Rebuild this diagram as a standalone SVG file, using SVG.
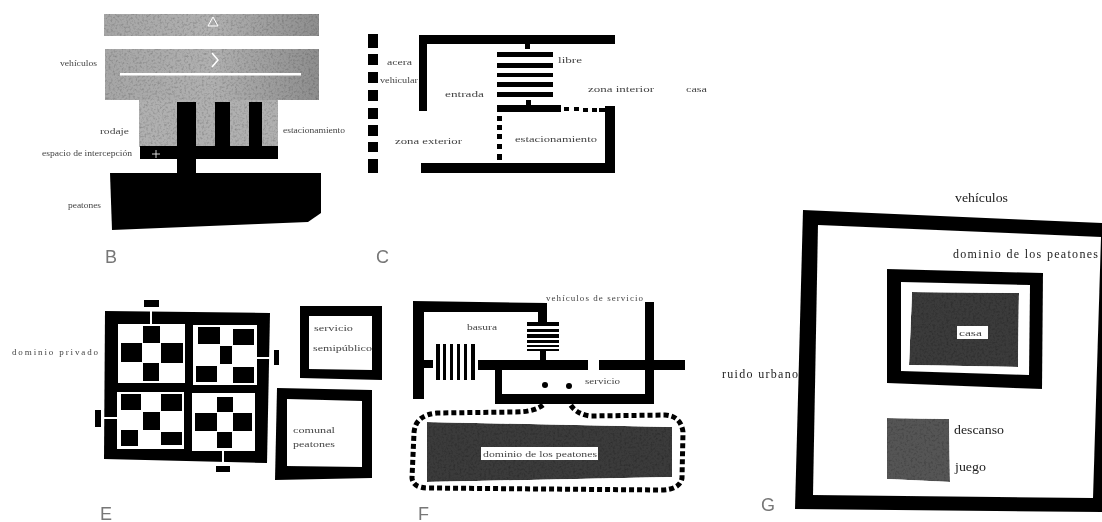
<svg xmlns="http://www.w3.org/2000/svg" width="1102" height="522" viewBox="0 0 1102 522">
<defs>
<style>
.k{fill:#060606}
.w{fill:#fff}
.g1{fill:url(#band)}
.g2{fill:#b0b0b0}
.d{fill:#3a3a3a}
.dm{fill:#555}
.wl{stroke:#fff;fill:none}
.sm{font-family:"Liberation Serif",serif;font-size:9px;fill:#444}
.lg{font-family:"Liberation Serif",serif;font-size:12px;fill:#222}
.let{font-family:"Liberation Sans",sans-serif;font-size:18px;fill:#777}
.dash{fill:none;stroke:#060606;stroke-width:5;stroke-dasharray:5 3}
</style>
<linearGradient id="band" x1="0" x2="1" y1="0" y2="0">
<stop offset="0" stop-color="#a6a6a6"/><stop offset="0.5" stop-color="#b0b0b0"/><stop offset="1" stop-color="#8e8e8e"/>
</linearGradient>
<filter id="soft" filterUnits="userSpaceOnUse" x="0" y="0" width="1102" height="522"><feGaussianBlur stdDeviation="0.6"/></filter>
<filter id="grain" filterUnits="objectBoundingBox" x="0" y="0" width="1" height="1">
<feTurbulence type="fractalNoise" baseFrequency="0.45" numOctaves="2" seed="4" result="n"/>
<feColorMatrix in="n" type="matrix" values="0.9 0 0 0 0.5  0.9 0 0 0 0.5  0.9 0 0 0 0.5  0 0 0 0 1" result="g"/>
<feBlend in="SourceGraphic" in2="g" mode="multiply" result="b"/>
<feComposite in="b" in2="SourceAlpha" operator="in"/>
</filter>
</defs>
<rect width="1102" height="522" fill="#fff"/>

<g filter="url(#soft)">
<g id="panel-b">
<rect class="g1" x="104" y="14" width="215" height="22" filter="url(#grain)"/>
<path class="wl" stroke-width="1" d="M208,26 L213,17 L218,26 Z"/>
<rect class="g1" x="105" y="49" width="214" height="51" filter="url(#grain)"/>
<path class="wl" stroke-width="1.5" d="M212,53 L218,60 L212,67"/>
<rect class="w" x="120" y="73" width="181" height="2.5"/>
<rect class="g2" x="139" y="100" width="139" height="47" filter="url(#grain)"/>
<rect class="k" x="177" y="102" width="19" height="72"/>
<rect class="k" x="215" y="102" width="15" height="46"/>
<rect class="k" x="249" y="102" width="13" height="46"/>
<rect class="k" x="140" y="146" width="138" height="13"/>
<path class="wl" stroke-width="0.8" d="M152,154 h8 M156,150 v8"/>
<polygon class="k" points="110,173 321,173 321,213 308,222 112,230"/>
<text class="sm" x="60" y="66" textLength="37" lengthAdjust="spacingAndGlyphs">vehículos</text>
<text class="sm" x="100" y="134" textLength="29" lengthAdjust="spacingAndGlyphs">rodaje</text>
<text class="sm" x="283" y="133" textLength="62" lengthAdjust="spacingAndGlyphs">estacionamiento</text>
<text class="sm" x="42" y="156" textLength="90" lengthAdjust="spacingAndGlyphs">espacio de intercepción</text>
<text class="sm" x="68" y="208" textLength="33" lengthAdjust="spacingAndGlyphs">peatones</text>
<text class="let" x="105" y="263">B</text>
</g>

<g id="panel-c">
<g class="k">
<rect x="368" y="34" width="10" height="14"/><rect x="368" y="54" width="10" height="11"/>
<rect x="368" y="72" width="10" height="11"/><rect x="368" y="90" width="10" height="11"/>
<rect x="368" y="108" width="10" height="11"/><rect x="368" y="125" width="10" height="11"/>
<rect x="368" y="142" width="10" height="10"/><rect x="368" y="159" width="10" height="14"/>
<rect x="419" y="35" width="196" height="9"/>
<rect x="419" y="35" width="8" height="76"/>
<rect x="421" y="163" width="194" height="10"/>
<rect x="605" y="106" width="10" height="67"/>
<rect x="497" y="105" width="64" height="7"/>
<rect x="525" y="44" width="5" height="5"/>
<rect x="526" y="100" width="5" height="6"/>
<rect x="497" y="52" width="56" height="5"/><rect x="497" y="63" width="56" height="5"/>
<rect x="497" y="73" width="56" height="4"/><rect x="497" y="82" width="56" height="5"/>
<rect x="497" y="92" width="56" height="5"/>
<rect x="564" y="107" width="5" height="4"/><rect x="574" y="107" width="5" height="4"/>
<rect x="583" y="108" width="5" height="4"/><rect x="592" y="108" width="5" height="4"/><rect x="599" y="108" width="6" height="4"/>
<rect x="497" y="116" width="5" height="5"/><rect x="497" y="125" width="5" height="5"/>
<rect x="497" y="134" width="5" height="5"/><rect x="497" y="144" width="5" height="5"/>
<rect x="497" y="154" width="5" height="6"/>
</g>
<text class="sm" x="387" y="65" textLength="25" lengthAdjust="spacingAndGlyphs">acera</text>
<text class="sm" x="380" y="83" textLength="38" lengthAdjust="spacingAndGlyphs">vehicular</text>
<text class="sm" x="445" y="97" textLength="39" lengthAdjust="spacingAndGlyphs">entrada</text>
<text class="sm" x="558" y="63" textLength="24" lengthAdjust="spacingAndGlyphs">libre</text>
<text class="sm" x="588" y="92" textLength="66" lengthAdjust="spacingAndGlyphs">zona interior</text>
<text class="sm" x="686" y="92" textLength="21" lengthAdjust="spacingAndGlyphs">casa</text>
<text class="sm" x="395" y="144" textLength="67" lengthAdjust="spacingAndGlyphs">zona exterior</text>
<text class="sm" x="515" y="142" textLength="82" lengthAdjust="spacingAndGlyphs">estacionamiento</text>
<text class="let" x="376" y="263">C</text>
</g>

<g id="panel-e">
<polygon class="k" points="105,311 270,313 267,463 104,459"/>
<g class="w">
<rect x="118" y="324" width="67" height="59"/>
<rect x="193" y="325" width="64" height="60"/>
<rect x="117" y="392" width="67" height="57"/>
<rect x="192" y="393" width="63" height="58"/>
</g>
<g class="k">
<rect x="143" y="326" width="17" height="17"/><rect x="121" y="343" width="21" height="19"/>
<rect x="161" y="343" width="22" height="20"/><rect x="143" y="363" width="16" height="18"/>
<rect x="198" y="327" width="22" height="17"/><rect x="233" y="329" width="21" height="16"/>
<rect x="220" y="346" width="12" height="18"/><rect x="196" y="366" width="21" height="16"/>
<rect x="233" y="367" width="21" height="16"/>
<rect x="121" y="394" width="20" height="16"/><rect x="161" y="394" width="21" height="17"/>
<rect x="143" y="412" width="17" height="18"/><rect x="121" y="430" width="17" height="16"/>
<rect x="161" y="432" width="21" height="13"/>
<rect x="217" y="397" width="16" height="15"/><rect x="195" y="413" width="22" height="18"/>
<rect x="233" y="413" width="19" height="18"/><rect x="217" y="432" width="15" height="16"/>
<rect x="144" y="300" width="15" height="7"/><rect x="274" y="350" width="5" height="15"/>
<rect x="95" y="410" width="6" height="17"/><rect x="216" y="466" width="14" height="6"/>
</g>
<path class="wl" stroke-width="2" d="M151,311 V324 M257,358 H274 M104,418 H117 M223,451 V466"/>
<polygon class="k" points="300,306 382,306 382,380 300,378"/>
<polygon class="w" points="309,316 372,316 372,370 309,369"/>
<polygon class="k" points="277,388 372,390 372,478 275,480"/>
<polygon class="w" points="287,399 362,401 362,467 287,466"/>
<text class="sm" x="12" y="355" textLength="86" lengthAdjust="spacing">dominio privado</text>
<text class="sm" x="314" y="331" textLength="39" lengthAdjust="spacingAndGlyphs">servicio</text>
<text class="sm" x="313" y="351" textLength="59" lengthAdjust="spacingAndGlyphs">semipúblico</text>
<text class="sm" x="293" y="433" textLength="42" lengthAdjust="spacingAndGlyphs">comunal</text>
<text class="sm" x="293" y="447" textLength="42" lengthAdjust="spacingAndGlyphs">peatones</text>
<text class="let" x="100" y="520">E</text>
</g>

<g id="panel-f">
<g class="k">
<polygon points="413,301 547,303 547,322 538,322 538,312 424,312 424,399 413,399"/>
<rect x="424" y="360" width="9" height="8"/>
<rect x="540" y="351" width="6" height="10"/>
<rect x="478" y="360" width="110" height="10"/>
<rect x="599" y="360" width="86" height="10"/>
<rect x="645" y="302" width="9" height="102"/>
<rect x="495" y="394" width="159" height="10"/>
<rect x="495" y="362" width="7" height="42"/>
<rect x="527" y="322" width="32" height="4"/><rect x="527" y="329" width="32" height="3"/>
<rect x="527" y="334" width="32" height="4"/><rect x="527" y="340" width="32" height="3"/>
<rect x="527" y="345" width="32" height="2"/><rect x="527" y="349" width="32" height="2"/>
<rect x="436" y="344" width="4" height="36"/><rect x="443" y="344" width="3" height="36"/>
<rect x="450" y="344" width="3" height="36"/><rect x="457" y="344" width="3" height="36"/>
<rect x="464" y="344" width="3" height="36"/><rect x="471" y="344" width="4" height="36"/>
<circle cx="545" cy="385" r="3"/><circle cx="569" cy="386" r="3"/>
</g>
<path class="dash" d="M543,405 Q534,412 515,412 L437,413 Q415,415 414,433 L412,478 Q413,488 428,488 L660,490 Q680,490 682,478 L683,432 Q681,416 665,415 L590,416 Q576,414 570,404"/>
<polygon class="d" points="427,422 672,427 672,477 427,482" filter="url(#grain)"/>
<rect class="w" x="481" y="447" width="117" height="13"/>
<text class="sm" x="483" y="457" textLength="114" lengthAdjust="spacingAndGlyphs">dominio de los peatones</text>
<text class="sm" x="546" y="301" textLength="97" lengthAdjust="spacing">vehículos de servicio</text>
<text class="sm" x="467" y="330" textLength="30" lengthAdjust="spacingAndGlyphs">basura</text>
<text class="sm" x="585" y="384" textLength="35" lengthAdjust="spacingAndGlyphs">servicio</text>
<text class="let" x="418" y="520">F</text>
</g>

<g id="panel-g">
<polygon class="k" points="803,210 1102,223 1102,512 795,509"/>
<polygon class="w" points="818,225 1101,237 1093,498 813,495"/>
<polygon class="k" points="887,269 1043,273 1042,389 887,383"/>
<polygon class="w" points="901,282 1030,285 1029,375 901,371"/>
<polygon class="d" points="912,292 1019,293 1018,367 909,365" filter="url(#grain)"/>
<rect class="w" x="957" y="326" width="31" height="13"/>
<polygon class="dm" points="887,418 949,419 950,482 887,479" filter="url(#grain)"/>
<text class="sm" x="959" y="336" textLength="23" lengthAdjust="spacingAndGlyphs">casa</text>
<text class="lg" x="955" y="202" textLength="53" lengthAdjust="spacingAndGlyphs">vehículos</text>
<text class="lg" x="953" y="258" textLength="145" lengthAdjust="spacing">dominio de los peatones</text>
<text class="lg" x="722" y="378" textLength="76" lengthAdjust="spacing">ruido urbano</text>
<text class="lg" x="954" y="434" textLength="50" lengthAdjust="spacingAndGlyphs">descanso</text>
<text class="lg" x="955" y="471" textLength="31" lengthAdjust="spacingAndGlyphs">juego</text>
<text class="let" x="761" y="511">G</text>
</g>
</g>
</svg>
